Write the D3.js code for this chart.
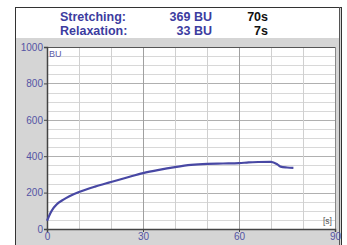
<!DOCTYPE html>
<html>
<head>
  <meta charset="utf-8">
  <title>Extensogram</title>
  <script src="https://d3js.org/d3.v7.min.js"></script>
  <style>
    body { margin: 0; background: #fff; }
    svg { display: block; }
    .hdr { font-family: "Liberation Sans", Arial, sans-serif; font-weight: bold; font-size: 12.5px; }
    .tick text { font-family: "Liberation Sans", Arial, sans-serif; font-size: 10px; fill: #5454a4; }
  </style>
</head>
<body>
  <script>
    // readings from the extensograph
    var timeS = [0, 0.5, 1, 2, 3, 5, 7, 10, 15, 20, 25, 30, 35, 40, 45, 50, 55, 60, 63, 66, 70, 72, 73, 75, 77];
    var force = [45, 65, 85, 115, 135, 160, 180, 203, 233, 258, 283, 307, 325, 340, 352, 358, 360, 362, 366, 368, 369, 355, 343, 338, 336];
    var xTicks = [0, 30, 60, 90];
    var yTicks = [0, 200, 400, 600, 800, 1000];
    var headerLabels = ["Stretching:", "Relaxation:"];
    var headerValues = ["369 BU", "33 BU"];
    var headerTimes = ["70s", "7s"];

    var W = 347, H = 245;
    var plot = {left: 47, right: 335, top: 47, bottom: 229};

    var svg = d3.select("body").append("svg")
        .attr("width", W)
        .attr("height", H);

    // outer frame
    svg.append("rect").attr("x", 15).attr("y", 7).attr("width", 327).attr("height", 245)
        .attr("fill", "#d5d5d5");
    svg.append("rect").attr("x", 16).attr("y", 8).attr("width", 323).attr("height", 30)
        .attr("fill", "#fff");
    svg.append("line").attr("x1", 15.5).attr("x2", 15.5).attr("y1", 7).attr("y2", H)
        .attr("stroke", "#333");
    svg.append("line").attr("x1", 15).attr("x2", 342).attr("y1", 7.5).attr("y2", 7.5)
        .attr("stroke", "#333");
    svg.append("line").attr("x1", 339.5).attr("x2", 339.5).attr("y1", 7).attr("y2", H)
        .attr("stroke", "#555");
    svg.append("line").attr("x1", 341.5).attr("x2", 341.5).attr("y1", 7).attr("y2", H)
        .attr("stroke", "#333");

    // header
    var hdr = svg.append("g").attr("class", "hdr");
    headerLabels.forEach(function(t, i) {
      var yb = 21 + i * 14;
      hdr.append("text").attr("x", 60).attr("y", yb).attr("fill", "#3c3ca0").text(t);
      hdr.append("text").attr("x", 212).attr("y", yb).attr("text-anchor", "end")
          .attr("fill", "#3c3ca0").text(headerValues[i]);
      hdr.append("text").attr("x", 268).attr("y", yb).attr("text-anchor", "end")
          .attr("fill", "#111").text(headerTimes[i]);
    });

    var x = d3.scaleLinear().domain([0, 90]).range([plot.left, plot.right]);
    var y = d3.scaleLinear().domain([0, 1000]).range([plot.bottom, plot.top]);

    svg.append("rect")
        .attr("x", plot.left).attr("y", plot.top)
        .attr("width", plot.right - plot.left).attr("height", plot.bottom - plot.top)
        .attr("fill", "#fff");

    // grid
    var grid = svg.append("g");
    grid.selectAll(".hg").data(d3.range(50, 1000, 50)).enter().append("line")
        .attr("x1", plot.left).attr("x2", plot.right)
        .attr("y1", function(d) { return Math.round(y(d)) + 0.5; })
        .attr("y2", function(d) { return Math.round(y(d)) + 0.5; })
        .attr("stroke", function(d) { return d % 200 === 0 ? "#b0b0b0" : "#d8d8d8"; });
    grid.selectAll(".vg").data(d3.range(10, 90, 10)).enter().append("line")
        .attr("y1", plot.top).attr("y2", plot.bottom)
        .attr("x1", function(d) { return Math.round(x(d)) + 0.5; })
        .attr("x2", function(d) { return Math.round(x(d)) + 0.5; })
        .attr("stroke", function(d) { return d % 30 === 0 ? "#a0a0a0" : "#d0d0d0"; });

    // plot border top/right
    svg.append("line").attr("x1", plot.left).attr("x2", plot.right + 1)
        .attr("y1", plot.top + 0.5).attr("y2", plot.top + 0.5).attr("stroke", "#555");
    svg.append("line").attr("x1", plot.right + 0.5).attr("x2", plot.right + 0.5)
        .attr("y1", plot.top).attr("y2", plot.bottom).attr("stroke", "#888");

    // axes
    var xAxis = d3.axisBottom(x).tickValues(xTicks).tickSize(3).tickPadding(1).tickFormat(d3.format("d"));
    var yAxis = d3.axisLeft(y).tickValues(yTicks).tickSize(3).tickPadding(1).tickFormat(d3.format("d"));

    svg.append("g")
        .attr("transform", "translate(0," + plot.bottom + ")")
        .call(xAxis)
        .call(function(g) { g.select(".domain").attr("stroke", "#444").attr("stroke-width", 1.5); });

    svg.append("g")
        .attr("transform", "translate(" + plot.left + ",0)")
        .call(yAxis)
        .call(function(g) { g.select(".domain").attr("stroke", "#444").attr("stroke-width", 1.5); });

    svg.selectAll(".tick line").attr("stroke", "#444");

    svg.append("text").attr("x", 49).attr("y", 57)
        .attr("font-family", "Liberation Sans, Arial, sans-serif").attr("font-size", 9)
        .attr("fill", "#5a5aa8").text("BU");
    svg.append("text").attr("x", 323).attr("y", 224)
        .attr("font-family", "Liberation Sans, Arial, sans-serif").attr("font-size", 8.5)
        .attr("fill", "#555").text("[s]");

    // curve
    var pts = timeS.map(function(t, i) { return [t, force[i]]; });
    var line = d3.line()
        .curve(d3.curveMonotoneX)
        .x(function(d) { return x(d[0]); })
        .y(function(d) { return y(d[1]); });

    svg.append("path")
        .datum(pts)
        .attr("fill", "none")
        .attr("stroke", "#4848a4")
        .attr("stroke-width", 2.2)
        .attr("d", line);
  </script>
</body>
</html>
